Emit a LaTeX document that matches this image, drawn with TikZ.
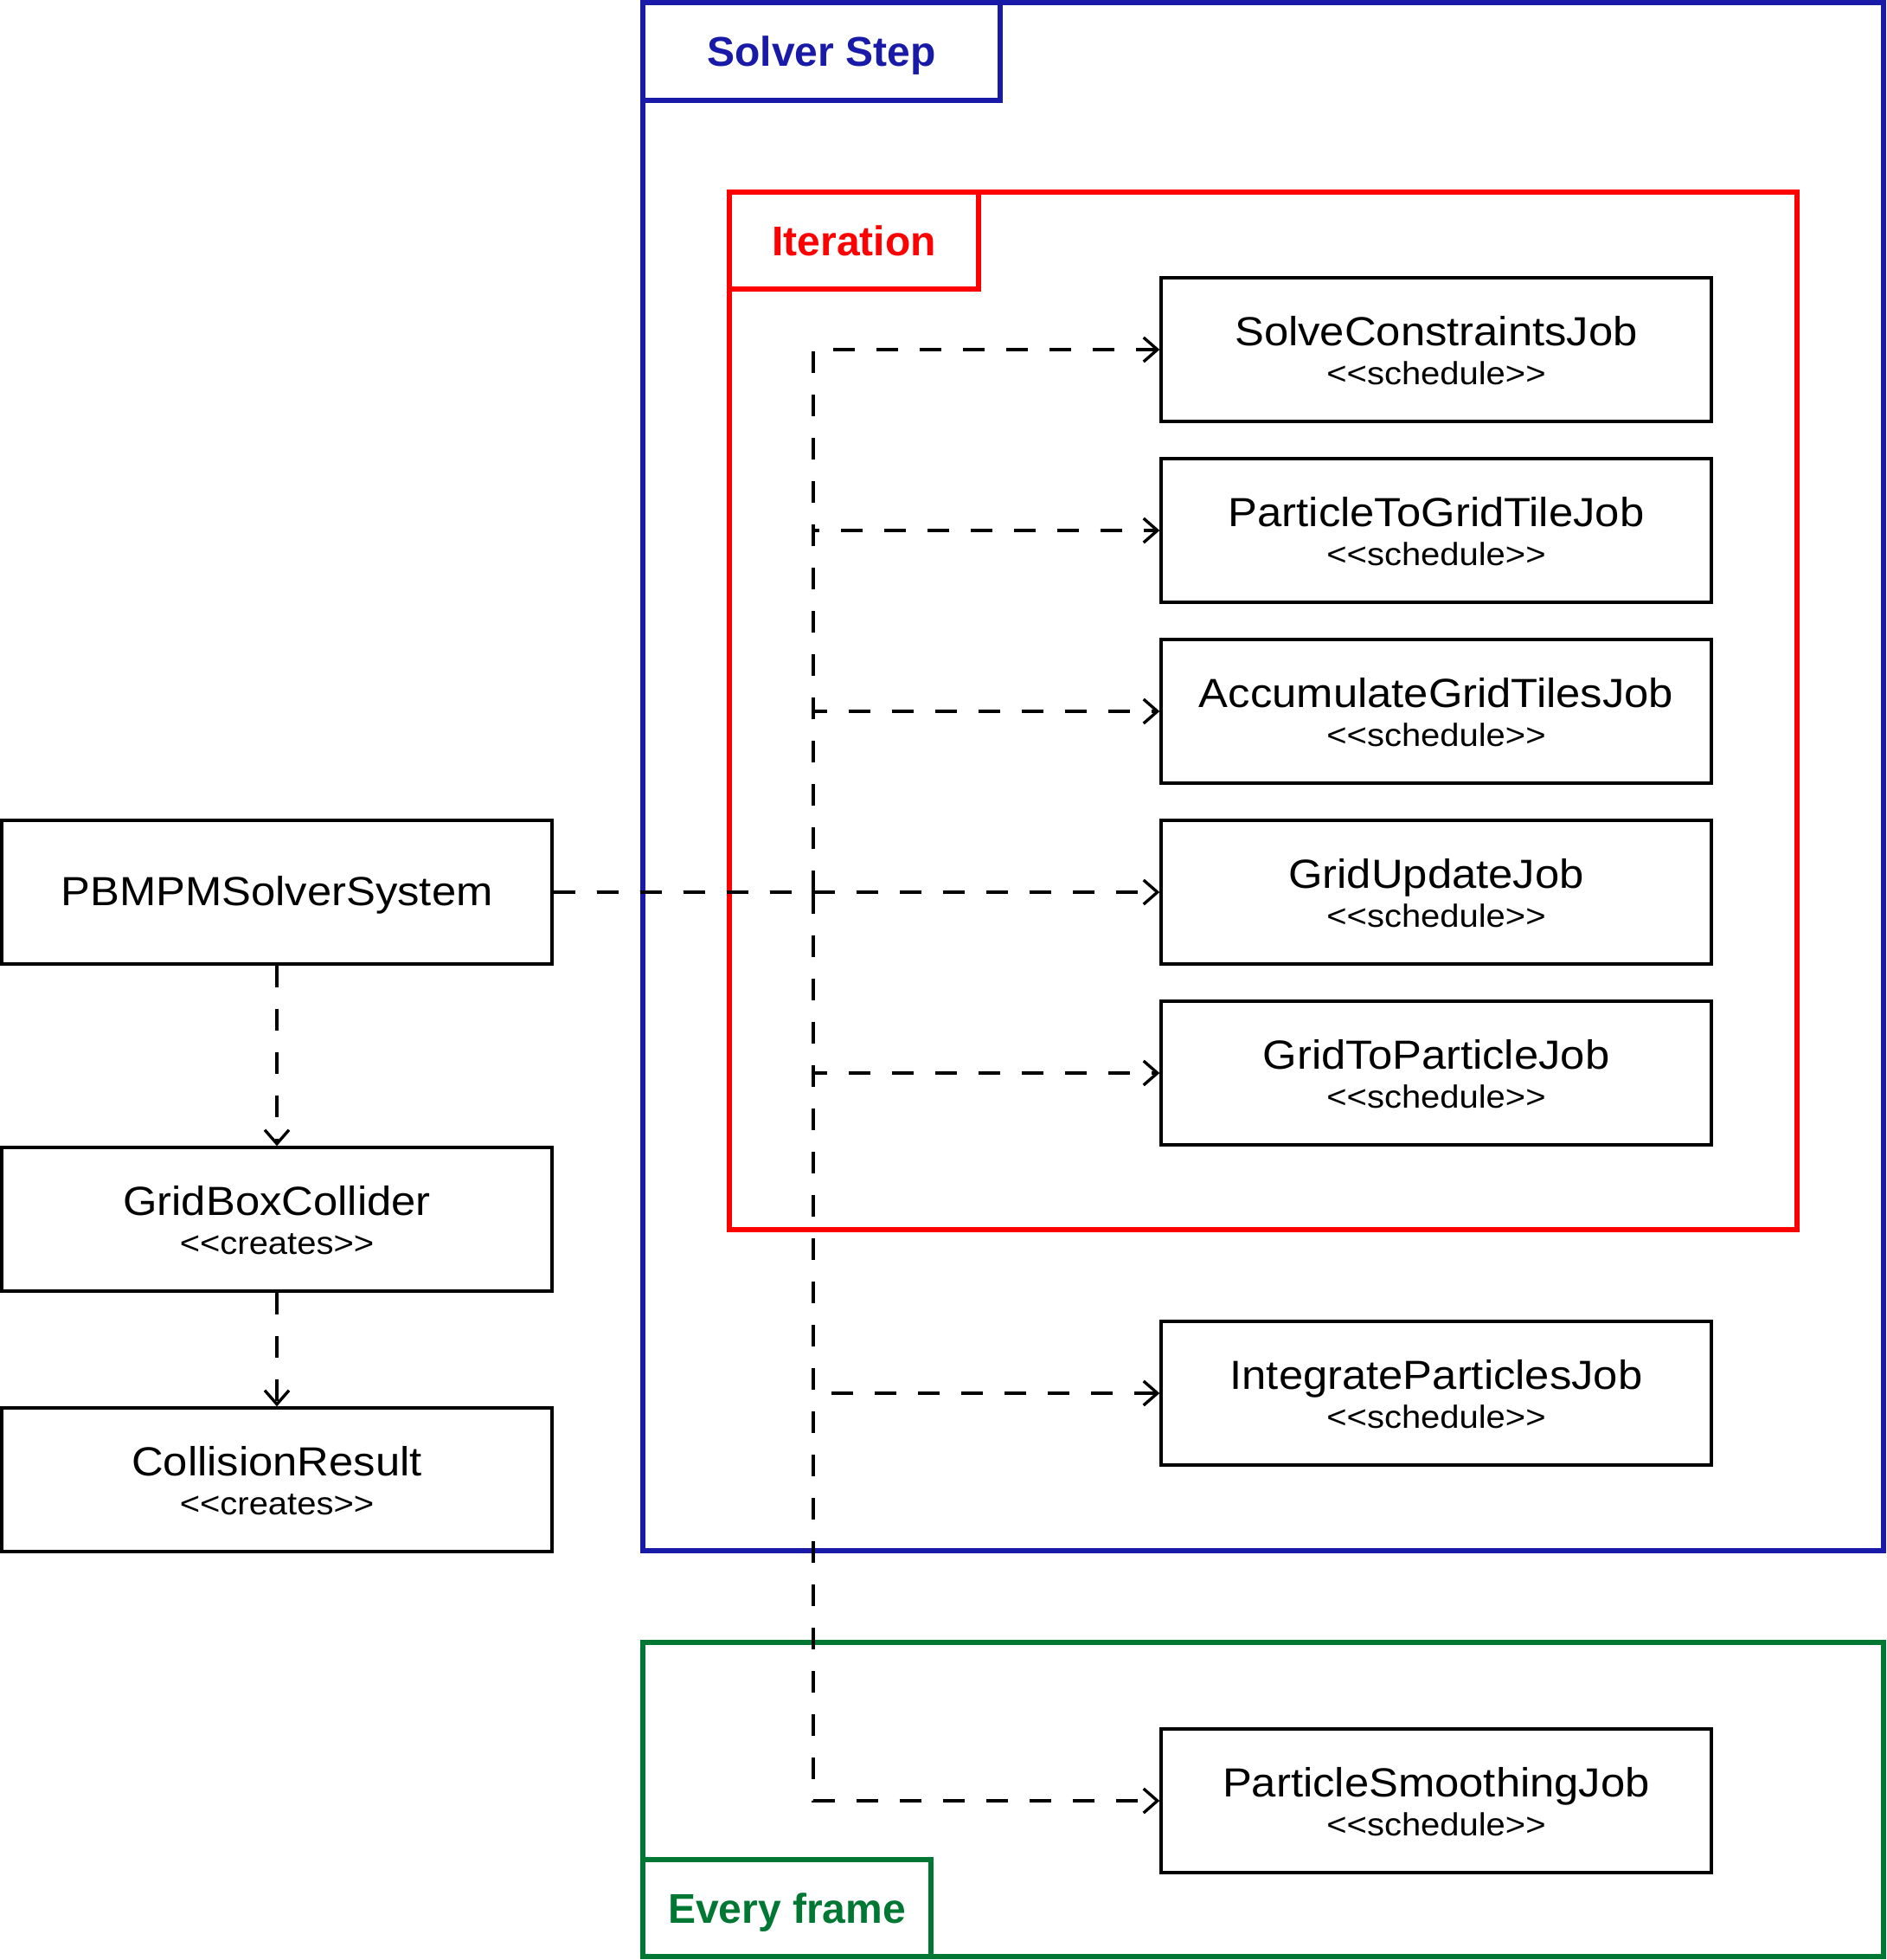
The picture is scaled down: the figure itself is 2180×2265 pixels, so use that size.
\documentclass[tikz,border=0pt]{standalone}
\usepackage{fontspec}
\setmainfont{Liberation Sans}[FakeStretch=1.08, Ligatures=TeXOff]
\newfontfamily\titlefont{Liberation Sans}[Ligatures=TeXOff]
\usetikzlibrary{arrows.meta,calc}
\definecolor{frameblue}{RGB}{26,26,168}
\definecolor{framered}{RGB}{255,0,0}
\definecolor{framegreen}{RGB}{0,119,51}
\begin{document}
\begin{tikzpicture}[x=0.5pt,y=-0.5pt,
  frame/.style={draw, line width=2.75pt, inner sep=0pt},
  tabbox/.style={frame, text height=17.2pt, text depth=0pt, font=\titlefont\bfseries\fontsize{24}{28}\selectfont},
  box/.style={draw, line width=1.7pt, inner sep=0pt, minimum width=318pt, minimum height=83pt},
  nametext/.style={anchor=base, inner sep=0pt, font=\fontsize{23.5}{28}\selectfont},
  stereo/.style={anchor=base, inner sep=0pt, font=\fontsize{18.5}{22}\selectfont},
  dep/.style={line width=1.7pt, dash pattern=on 12.5pt off 12.5pt, -{Straight Barb[length=8pt,width=14pt]}}]
\useasboundingbox (0,0) rectangle (2180,2265);

% frames
\node[frame, draw=frameblue, minimum width=717pt, minimum height=894.5pt] (solver) at (1460,897.5) {};
\node[tabbox, draw=frameblue, text=frameblue, minimum width=206.5pt, minimum height=56.5pt] (solvertab) at (949.5,59.5) {Solver Step};
\node[frame, draw=framered, minimum width=617pt, minimum height=599.5pt] (iter) at (1460,821.5) {};
\node[tabbox, draw=framered, text=framered, minimum width=144pt, minimum height=56pt] (itertab) at (987,278) {Iteration};
\node[frame, draw=framegreen, minimum width=717pt, minimum height=181.5pt] (every) at (1460,2079.5) {};
\node[tabbox, draw=framegreen, text=framegreen, minimum width=166.5pt, minimum height=56pt] (everytab) at (909.5,2205) {Every frame};

% left boxes
\node[box] (pb) at (320,1031) {};
\node[anchor=base, inner sep=0pt, font=\fontsize{23.5}{28}\selectfont] (pbt) at ($(pb.north)+(0,100)$) {PBMPMSolverSystem};
\node[box] (gbc) at (320,1409) {};
\node[nametext] (gbct) at ($(gbc.north)+(0,80)$) {GridBoxCollider};
\node[stereo] (gbcs) at ($(gbc.north)+(0,125)$) {<<creates>>};
\node[box] (cr) at (320,1710) {};
\node[nametext] (crt) at ($(cr.north)+(0,80)$) {CollisionResult};
\node[stereo] (crs) at ($(cr.north)+(0,125)$) {<<creates>>};

% job boxes
\node[box] (sc) at (1660,404) {};
\node[nametext] (sct) at ($(sc.north)+(0,80)$) {SolveConstraintsJob};
\node[stereo] (scs) at ($(sc.north)+(0,125)$) {<<schedule>>};
\node[box] (pg) at (1660,613) {};
\node[nametext] (pgt) at ($(pg.north)+(0,80)$) {ParticleToGridTileJob};
\node[stereo] (pgs) at ($(pg.north)+(0,125)$) {<<schedule>>};
\node[box] (ag) at (1660,822) {};
\node[nametext] (agt) at ($(ag.north)+(0,80)$) {AccumulateGridTilesJob};
\node[stereo] (ags) at ($(ag.north)+(0,125)$) {<<schedule>>};
\node[box] (gu) at (1660,1031) {};
\node[nametext] (gut) at ($(gu.north)+(0,80)$) {GridUpdateJob};
\node[stereo] (gus) at ($(gu.north)+(0,125)$) {<<schedule>>};
\node[box] (gp) at (1660,1240) {};
\node[nametext] (gpt) at ($(gp.north)+(0,80)$) {GridToParticleJob};
\node[stereo] (gps) at ($(gp.north)+(0,125)$) {<<schedule>>};
\node[box] (ip) at (1660,1610) {};
\node[nametext] (ipt) at ($(ip.north)+(0,80)$) {IntegrateParticlesJob};
\node[stereo] (ips) at ($(ip.north)+(0,125)$) {<<schedule>>};
\node[box] (ps) at (1660,2081) {};
\node[nametext] (pst) at ($(ps.north)+(0,80)$) {ParticleSmoothingJob};
\node[stereo] (pss) at ($(ps.north)+(0,125)$) {<<schedule>>};

% connectors
\coordinate (trunk) at (940,1031);
\draw[dep] (pb.east) -- (trunk) |- (sc.west);
\draw[dep] (pb.east) -- (trunk) |- (pg.west);
\draw[dep] (pb.east) -- (trunk) |- (ag.west);
\draw[dep] (pb.east) -- (gu.west);
\draw[dep] (pb.east) -- (trunk) |- (gp.west);
\draw[dep] (pb.east) -- (trunk) |- (ip.west);
\draw[dep] (pb.east) -- (trunk) |- (ps.west);
\draw[dep] (pb.south) -- (gbc.north);
\draw[dep] (gbc.south) -- (cr.north);
\end{tikzpicture}
\end{document}
